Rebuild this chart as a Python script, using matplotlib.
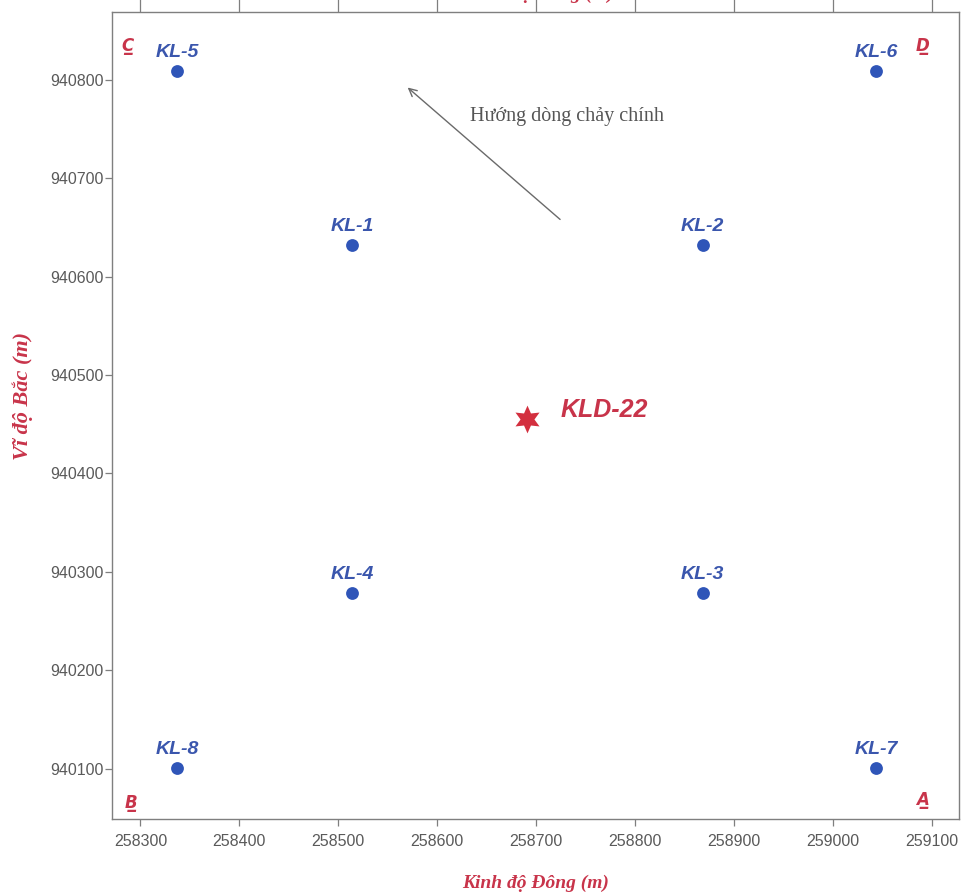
import matplotlib
matplotlib.use("Agg")
import matplotlib.pyplot as plt

# ---- data ----
well_names = ["KL-1", "KL-2", "KL-3", "KL-4", "KL-5", "KL-6", "KL-7", "KL-8"]
well_x = [258514, 258868, 258868, 258514, 258337, 259043, 259043, 258337]
well_y = [940632, 940632, 940279, 940279, 940809, 940809, 940101, 940101]

center_name = "KLD-22"
center_x = [258691]
center_y = [940455]

corner_names = ["C", "D", "B", "A"]
corner_x = [258287, 259090, 258290, 259090]
corner_y = [940834, 940834, 940065, 940068]

flow_text = "Hướng dòng chảy chính"
flow_tail = (258724, 940658)
flow_head = (258570, 940792)
flow_text_pos = (258633, 940763)

x_ticks = [258300, 258400, 258500, 258600, 258700, 258800, 258900, 259000, 259100]
y_ticks = [940100, 940200, 940300, 940400, 940500, 940600, 940700, 940800]
x_lim = (258271, 259127)
y_lim = (940049, 940869)

x_label = "Kinh độ Đông (m)"
y_label = "Vĩ độ Bắc (m)"

# ---- styles ----
BLUE = "#2f55b8"
BLUE_TXT = "#3a56ad"
RED = "#d3303f"
RED_TXT = "#c8344a"
GRAY = "#7f7f7f"
TICK_TXT = "#5a5a5a"

fig = plt.figure(figsize=(9.62, 8.93), dpi=100)
ax = fig.add_axes([111.7 / 962, 74 / 893, (959 - 111.7) / 962, (819 - 11.7) / 893])

ax.set_xlim(*x_lim)
ax.set_ylim(*y_lim)
ax.set_xticks(x_ticks)
ax.set_yticks(y_ticks)
ax.set_xticklabels([str(v) for v in x_ticks])
ax.set_yticklabels([str(v) for v in y_ticks])

for s in ax.spines.values():
    s.set_color(GRAY)
    s.set_linewidth(1.0)
ax.tick_params(axis="both", direction="out", length=5, width=0.9, color=GRAY,
               labelcolor=TICK_TXT, labelsize=11.5)
ax.tick_params(axis="x", pad=6)
ax.tick_params(axis="y", pad=1)
for lab in ax.get_xticklabels() + ax.get_yticklabels():
    lab.set_family("Liberation Sans")

# top ticks (secondary axis)
sec = ax.secondary_xaxis("top")
sec.set_xticks(x_ticks)
sec.set_xticklabels([])
sec.tick_params(direction="out", length=12, width=0.9, color=GRAY)
sec.spines["top"].set_visible(False)

# wells
ax.scatter(well_x, well_y, s=85, color=BLUE, zorder=3, linewidths=0)
for n, x, y in zip(well_names, well_x, well_y):
    ax.annotate(n, (x, y), xytext=(0, 7), textcoords="offset points",
                ha="center", va="bottom", color=BLUE_TXT, fontsize=14,
                fontweight="bold", fontstyle="italic", family="Liberation Sans")

# center
ax.plot(center_x, center_y, linestyle="none", marker=(6, 1, 0), markersize=20,
        color=RED, markeredgewidth=0, zorder=3)
ax.annotate(center_name, (center_x[0], center_y[0]), xytext=(24, 7),
            textcoords="offset points", ha="left", va="center", color=RED_TXT,
            fontsize=18, fontweight="bold", fontstyle="italic", family="Liberation Sans")

# corners (underlined)
for n, x, y in zip(corner_names, corner_x, corner_y):
    ax.text(x, y, n + "\u0332", ha="center", va="center", color=RED_TXT, fontsize=12,
            fontweight="bold", fontstyle="italic", family=["DejaVu Sans"])

# flow arrow
ax.annotate("", xy=flow_head, xytext=flow_tail,
            arrowprops=dict(arrowstyle="->", color="#6a6a6a", lw=1.0,
                            mutation_scale=14, shrinkA=0, shrinkB=0))
ax.text(flow_text_pos[0], flow_text_pos[1], flow_text, ha="left", va="center",
        color="#555555", fontsize=14.5, family="Liberation Serif")

# axis labels
ax.set_xlabel(x_label, color=RED_TXT, fontsize=14, fontweight="bold", fontstyle="italic",
              family="Liberation Serif", labelpad=18)
ax.set_ylabel(y_label, color=RED_TXT, fontsize=16, fontweight="bold", fontstyle="italic",
              family="Liberation Serif")
ax.yaxis.set_label_coords(-0.093, 0.524)

# top label, mostly cut off by figure edge (as in the reference)
fig.text(0.5 * (111.7 + 959) / 962 + 0.005, 1 - 3 / 893, x_label, ha="center", va="bottom",
         color=RED_TXT, fontsize=14, fontweight="bold", fontstyle="italic",
         family="Liberation Serif")

fig.savefig("out.png", dpi=100)
